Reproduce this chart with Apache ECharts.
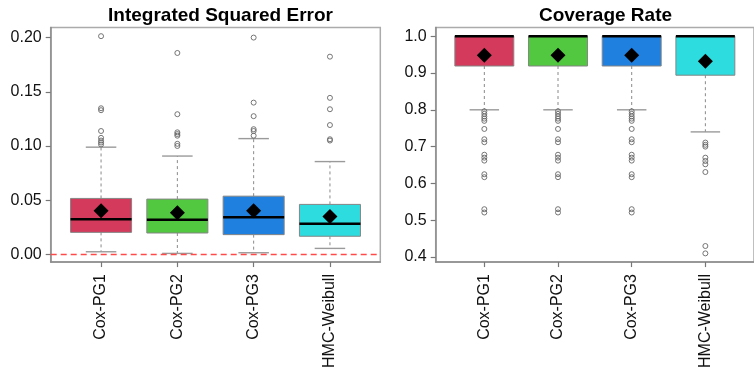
<!DOCTYPE html>
<html>
<head>
<meta charset="utf-8">
<style>
  html, body { margin: 0; padding: 0; background: #ffffff; }
  #chart { width: 754px; height: 371px; }
</style>
<script src="https://cdn.jsdelivr.net/npm/echarts@6/dist/echarts.min.js"></script>
</head>
<body>
<div id="chart"></div>
<script>
// Methods compared in both panels
const methods = ['Cox-PG1', 'Cox-PG2', 'Cox-PG3', 'HMC-Weibull'];
const boxColors = ['#D43A5B', '#51C83F', '#1F80DF', '#2CDCDE'];

// Integrated squared error: [lower whisker, Q1, median, Q3, upper whisker]
const iseStats = [
  [0.0024, 0.0203, 0.0324, 0.0516, 0.0989],
  [0.0009, 0.0197, 0.0319, 0.0510, 0.0907],
  [0.0015, 0.0182, 0.0342, 0.0537, 0.1068],
  [0.0055, 0.0167, 0.0282, 0.0461, 0.0856]
];
const iseMeans = [0.0403, 0.0385, 0.0403, 0.0349];
const iseOutliers = [
  [0.2013, 0.1348, 0.1330, 0.1138, 0.1075, 0.1050, 0.1032, 0.1014],
  [0.1858, 0.1293, 0.1126, 0.1110, 0.1095, 0.1020, 0.1000],
  [0.2000, 0.1400, 0.1275, 0.1155, 0.1138, 0.1095],
  [0.1824, 0.1444, 0.1339, 0.1193, 0.1062, 0.1050]
];
const iseTicks = [0, 0.05, 0.10, 0.15, 0.20];
const iseRange = [-0.0071, 0.2093];

// Coverage rate: [lower whisker, Q1, median, Q3, upper whisker]
const covStats = [
  [0.80, 0.919, 1.0, 1.0, 1.0],
  [0.80, 0.919, 1.0, 1.0, 1.0],
  [0.80, 0.919, 1.0, 1.0, 1.0],
  [0.74, 0.894, 1.0, 1.0, 1.0]
];
const covMeans = [0.948, 0.948, 0.948, 0.932];
const covLowGroup = [0.796, 0.789, 0.782, 0.776, 0.770, 0.748, 0.720, 0.712, 0.678, 0.670, 0.662, 0.625, 0.617, 0.530, 0.521];
const covOutliers = [
  covLowGroup,
  covLowGroup,
  covLowGroup,
  [0.711, 0.705, 0.700, 0.670, 0.661, 0.652, 0.631, 0.430, 0.410]
];
const covTicks = [0.4, 0.5, 0.6, 0.7, 0.8, 0.9, 1.0];
const covRange = [0.3864, 1.0236];

const FONT = '"Liberation Sans", Arial, Helvetica, sans-serif';
const xRange = [0.34, 4.66];

function boxRows(stats) {
  return stats.map((s, i) => [i + 1].concat(s).concat([i]));
}
function outlierRows(lists) {
  const rows = [];
  lists.forEach((vals, i) => vals.forEach(v => rows.push([i + 1, v])));
  return rows;
}
function meanRows(means) {
  return means.map((m, i) => [i + 1, m]);
}

function renderBox(params, api) {
  const x = api.value(0);
  const low = api.value(1), q1 = api.value(2), med = api.value(3), q3 = api.value(4), high = api.value(5);
  const idx = api.value(6);
  const halfBox = api.size([0.4, 0])[0];
  const halfCap = api.size([0.2, 0])[0];
  const pLow = api.coord([x, low]);
  const pQ1 = api.coord([x, q1]);
  const pMed = api.coord([x, med]);
  const pQ3 = api.coord([x, q3]);
  const pHigh = api.coord([x, high]);
  const cx = pMed[0];
  const whisker = { stroke: '#8a8a8a', lineWidth: 1, lineDash: [3, 3] };
  const cap = { stroke: '#9a9a9a', lineWidth: 1.4 };
  return {
    type: 'group',
    children: [
      { type: 'line', shape: { x1: cx, y1: pQ1[1], x2: cx, y2: pLow[1] }, style: whisker },
      { type: 'line', shape: { x1: cx, y1: pQ3[1], x2: cx, y2: pHigh[1] }, style: whisker },
      { type: 'line', shape: { x1: cx - halfCap, y1: pLow[1], x2: cx + halfCap, y2: pLow[1] }, style: cap },
      { type: 'line', shape: { x1: cx - halfCap, y1: pHigh[1], x2: cx + halfCap, y2: pHigh[1] }, style: cap },
      { type: 'rect', shape: { x: cx - halfBox, y: pQ3[1], width: 2 * halfBox, height: pQ1[1] - pQ3[1] },
        style: { fill: boxColors[idx], stroke: '#858585', lineWidth: 1 } },
      { type: 'line', shape: { x1: cx - halfBox, y1: pMed[1], x2: cx + halfBox, y2: pMed[1] },
        style: { stroke: '#000000', lineWidth: 2.4 } }
    ]
  };
}

function xAxisFor(gridIndex) {
  return {
    type: 'value', gridIndex, min: xRange[0], max: xRange[1],
    splitLine: { show: false },
    axisLine: { show: true, onZero: false, lineStyle: { color: '#8c8c8c', width: 1.5 } },
    axisTick: { show: true, length: 5, customValues: [1, 2, 3, 4], lineStyle: { color: '#777', width: 1.2 } },
    axisLabel: {
      show: true, customValues: [1, 2, 3, 4], rotate: 90, margin: 12,
      color: '#111', fontSize: 16, fontFamily: FONT,
      formatter: v => methods[Math.round(v) - 1] || ''
    }
  };
}
function yAxisFor(gridIndex, range, ticks, digits) {
  return {
    type: 'value', gridIndex, min: range[0], max: range[1],
    splitLine: { show: false },
    axisLine: { show: true, onZero: false, lineStyle: { color: '#8c8c8c', width: 1.5 } },
    axisTick: { show: true, length: 5, customValues: ticks, lineStyle: { color: '#777', width: 1.2 } },
    axisLabel: {
      show: true, customValues: ticks, margin: 9,
      color: '#111', fontSize: 16, fontFamily: FONT,
      formatter: v => v.toFixed(digits)
    }
  };
}

function panelSeries(k, stats, means, outliers, extra) {
  const out = {
    type: 'scatter', xAxisIndex: k, yAxisIndex: k, z: 3,
    symbol: 'circle', symbolSize: 5,
    itemStyle: { color: 'rgba(0,0,0,0)', borderColor: '#666666', borderWidth: 0.9, opacity: 1 },
    data: outlierRows(outliers), silent: true
  };
  if (extra) out.markLine = extra;
  return [
    { type: 'custom', xAxisIndex: k, yAxisIndex: k, z: 2, renderItem: renderBox,
      encode: { x: 0, y: [1, 2, 3, 4, 5] }, data: boxRows(stats), silent: true },
    out,
    { type: 'scatter', xAxisIndex: k, yAxisIndex: k, z: 4, symbol: 'diamond', symbolSize: 15,
      itemStyle: { color: '#000000', opacity: 1 }, data: meanRows(means), silent: true }
  ];
}

const chart = echarts.init(document.getElementById('chart'), null, { renderer: 'canvas' });
chart.setOption({
  animation: false,
  backgroundColor: '#ffffff',
  title: [
    { text: 'Integrated Squared Error', left: 215.5, top: 1, textAlign: 'center',
      textStyle: { fontFamily: FONT, fontWeight: 'bold', fontSize: 19, color: '#000' } },
    { text: 'Coverage Rate', left: 600.5, top: 1, textAlign: 'center',
      textStyle: { fontFamily: FONT, fontWeight: 'bold', fontSize: 19, color: '#000' } }
  ],
  grid: [
    { left: 50.7, top: 27.5, width: 329.6, height: 237.2, show: true, borderColor: '#ababab', borderWidth: 1.5, backgroundColor: 'transparent' },
    { left: 435.7, top: 27.5, width: 329.6, height: 237.2, show: true, borderColor: '#ababab', borderWidth: 1.5, backgroundColor: 'transparent' }
  ],
  xAxis: [xAxisFor(0), xAxisFor(1)],
  yAxis: [yAxisFor(0, iseRange, iseTicks, 2), yAxisFor(1, covRange, covTicks, 1)],
  series: [].concat(
    panelSeries(0, iseStats, iseMeans, iseOutliers, {
      silent: true, symbol: 'none', label: { show: false },
      lineStyle: { color: '#FF4A4A', type: [6, 4], width: 1.4 },
      data: [{ yAxis: 0 }]
    }),
    panelSeries(1, covStats, covMeans, covOutliers, null)
  )
});
</script>
</body>
</html>
